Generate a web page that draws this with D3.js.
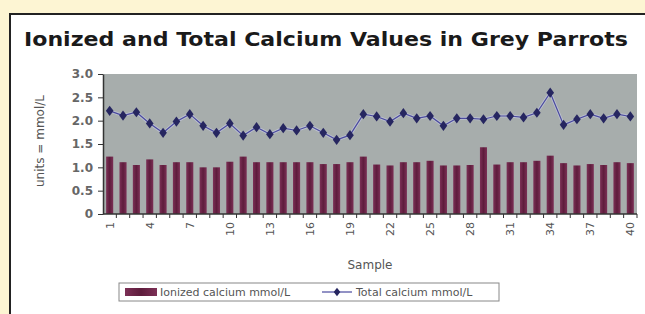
<!DOCTYPE html>
<html><head><meta charset="utf-8">
<script src="https://cdn.jsdelivr.net/npm/d3@7/dist/d3.min.js"></script>
<style>html,body{margin:0;padding:0;background:#fdf5d3;overflow:hidden;}svg{display:block;overflow:hidden;}</style>
</head><body>
<svg id="c" width="645" height="314"></svg>
<script>
const samples = d3.range(1, 41);
const ionized = [1.23,1.11,1.05,1.17,1.05,1.11,1.11,1.00,1.00,1.12,1.23,1.11,1.11,
  1.11,1.11,1.11,1.07,1.07,1.11,1.23,1.06,1.04,1.11,1.11,1.14,1.04,1.04,
  1.05,1.43,1.06,1.11,1.11,1.14,1.25,1.09,1.04,1.07,1.05,1.11,1.09];
const total = [2.21,2.11,2.18,1.94,1.74,1.98,2.14,1.89,1.74,1.94,1.68,1.86,1.71,
  1.84,1.79,1.89,1.74,1.59,1.69,2.14,2.09,1.98,2.16,2.05,2.10,1.89,2.05,
  2.05,2.03,2.10,2.10,2.07,2.17,2.60,1.91,2.03,2.14,2.05,2.14,2.09];
const xTickLabels = [1,4,7,10,13,16,19,22,25,28,31,34,37,40];
const yTicks = [0,0.5,1.0,1.5,2.0,2.5,3.0];
const title = "Ionized and Total Calcium Values in Grey Parrots";
const seriesNames = ["Ionized calcium mmol/L", "Total calcium mmol/L"];

const svg = d3.select("#c");
const font = "'DejaVu Sans', sans-serif";

// panel (left and top border only; others fall outside the picture)
svg.append("rect").attr("x", 10).attr("y", 14).attr("width", 635).attr("height", 300).attr("fill", "#ffffff");
svg.append("path").attr("d", "M10,314V14H645").attr("fill", "none").attr("stroke", "#222").attr("stroke-width", 2);

svg.append("text").attr("x", 24).attr("y", 46)
  .attr("font-family", font).attr("font-weight", "bold").attr("font-size", 20)
  .attr("fill", "#1a1a1a").attr("textLength", 604).attr("lengthAdjust", "spacingAndGlyphs")
  .text(title);

const L = 103, R = 637, T = 74, B = 214;
const x = d3.scaleBand().domain(samples).range([L, R]).paddingInner(0.47).paddingOuter(0.235);
const xb = d3.scaleBand().domain(samples).range([L, R]);
const y = d3.scaleLinear().domain([0, 3]).range([B, T]);

svg.append("rect").attr("x", L).attr("y", T).attr("width", R - L).attr("height", B - T).attr("fill", "#a7adac");

const defs = svg.append("defs");
const g = defs.append("linearGradient").attr("id", "bg").attr("x1", 0).attr("x2", 1);
g.append("stop").attr("offset", "0").attr("stop-color", "#7c3056");
g.append("stop").attr("offset", "0.5").attr("stop-color", "#5e1c3c");
g.append("stop").attr("offset", "1").attr("stop-color", "#7c3056");

svg.append("g").selectAll("rect").data(samples).join("rect")
  .attr("x", d => x(d)).attr("width", x.bandwidth())
  .attr("y", (d, i) => y(ionized[i])).attr("height", (d, i) => B - y(ionized[i]))
  .attr("fill", "url(#bg)");

const line = d3.line().x((d, i) => xb(samples[i]) + xb.bandwidth() / 2).y(d => y(d));
svg.append("path").datum(total).attr("d", line).attr("fill", "none")
  .attr("stroke", "#c8cbe6").attr("stroke-width", 3).attr("opacity", 0.6);
svg.append("path").datum(total).attr("d", line).attr("fill", "none")
  .attr("stroke", "#4a4a9e").attr("stroke-width", 1.2);
svg.append("g").selectAll("path").data(total).join("path")
  .attr("transform", (d, i) => `translate(${xb(samples[i]) + xb.bandwidth() / 2},${y(d)}) scale(1.3,1)`)
  .attr("d", d3.symbol(d3.symbolDiamond, 30)).attr("fill", "#262660");

// y axis
const ya = svg.append("g").attr("transform", `translate(${L},0)`)
  .call(d3.axisLeft(y).tickValues(yTicks).tickSize(5).tickSizeOuter(0)
    .tickFormat(d => d === 0 ? "0" : d3.format(".1f")(d)));
ya.select(".domain").attr("stroke", "#333").attr("stroke-width", 1.5);
ya.selectAll("line").attr("stroke", "#333");
ya.selectAll("text").attr("font-family", font).attr("font-size", 12).attr("font-weight", "bold")
  .attr("fill", "#666").attr("x", -10);

// x axis
const xa = svg.append("g").attr("transform", `translate(0,${B})`);
xa.append("line").attr("x1", L).attr("x2", R).attr("stroke", "#333").attr("stroke-width", 1.5);
xa.selectAll(".tk").data(samples).join("line").attr("class", "tk")
  .attr("x1", d => xb(d) + xb.bandwidth()).attr("x2", d => xb(d) + xb.bandwidth())
  .attr("y1", 0).attr("y2", 4).attr("stroke", "#333");
xa.selectAll(".lb").data(xTickLabels).join("text").attr("class", "lb")
  .attr("transform", d => `translate(${xb(d) + xb.bandwidth() / 2 + 4},8) rotate(-90)`)
  .attr("text-anchor", "end").attr("font-family", font).attr("font-size", 11)
  .attr("fill", "#555").text(d => d);

svg.append("text").attr("x", (L + R) / 2).attr("y", 269).attr("text-anchor", "middle")
  .attr("font-family", font).attr("font-size", 12).attr("fill", "#555").text("Sample");

svg.append("text").attr("transform", `translate(44,141) rotate(-90)`).attr("text-anchor", "middle")
  .attr("font-family", font).attr("font-size", 12).attr("fill", "#555").text("units = mmol/L");

// legend
const lg = svg.append("g");
lg.append("rect").attr("x", 119).attr("y", 283).attr("width", 380).attr("height", 18)
  .attr("fill", "#fff").attr("stroke", "#888").attr("stroke-width", 1);
lg.append("rect").attr("x", 125).attr("y", 288).attr("width", 32).attr("height", 8).attr("fill", "url(#bg)");
lg.append("text").attr("x", 160).attr("y", 296).attr("font-family", font).attr("font-size", 11)
  .attr("fill", "#555").text(seriesNames[0]);
lg.append("line").attr("x1", 322).attr("x2", 352).attr("y1", 292).attr("y2", 292).attr("stroke", "#4a4a9e").attr("stroke-width", 1.2);
lg.append("path").attr("transform", "translate(337,292) scale(1.3,1)").attr("d", d3.symbol(d3.symbolDiamond, 22)).attr("fill", "#262660");
lg.append("text").attr("x", 356).attr("y", 296).attr("font-family", font).attr("font-size", 11)
  .attr("fill", "#555").text(seriesNames[1]);
</script>
</body></html>
